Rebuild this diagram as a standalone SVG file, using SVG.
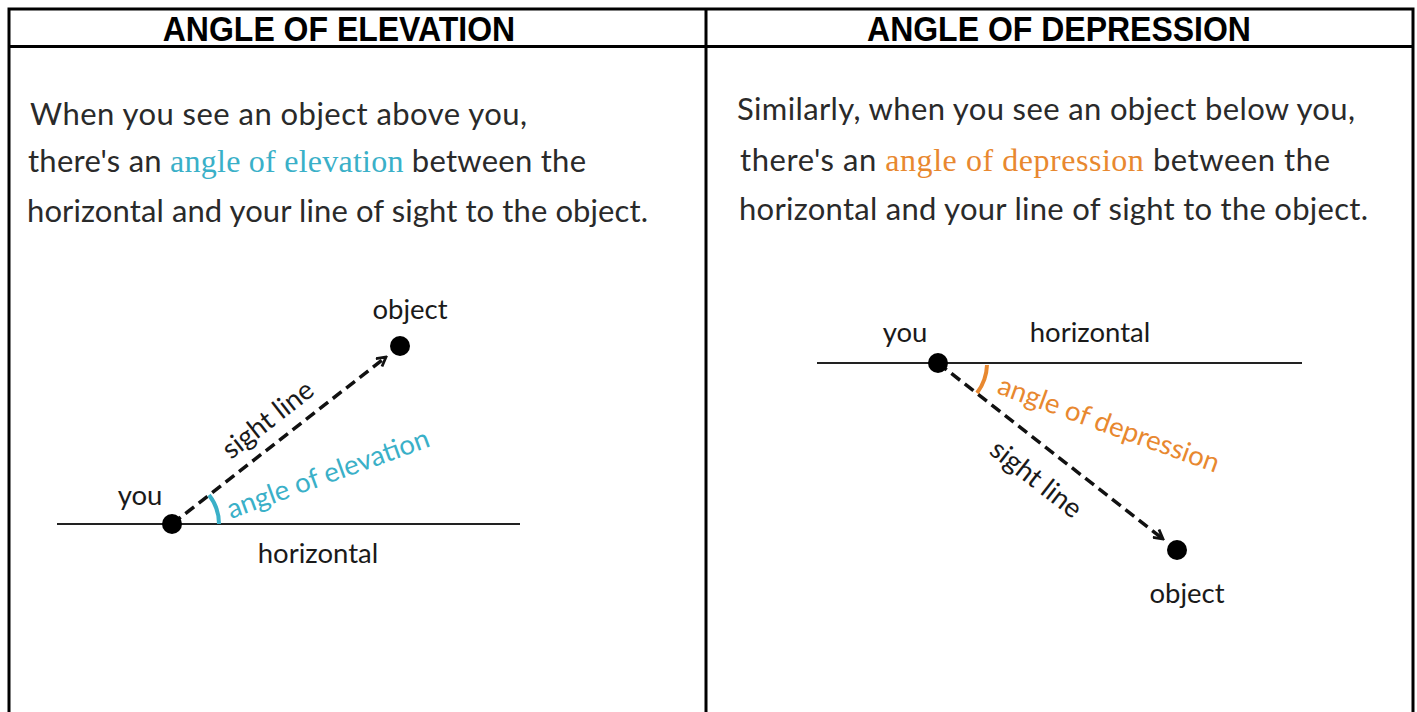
<svg xmlns="http://www.w3.org/2000/svg" width="1417" height="712" viewBox="0 0 1417 712">
<style>
.hdr{font-family:"Liberation Sans",Arial,sans-serif;font-weight:bold;font-size:32px;fill:#000;text-anchor:middle}
.body{font-family:Lato,"Open Sans",sans-serif;font-size:31px;fill:#2a2a2a}
.ser{font-family:"Liberation Serif","DejaVu Serif",serif;font-size:32px}
.lbl{font-family:Lato,"Open Sans",sans-serif;font-size:27.5px;fill:#1a1a1a}
.grid{stroke:#000;stroke-width:3;fill:none}
.hline{stroke:#222;stroke-width:2}
.sight{stroke:#111;stroke-width:3.5;stroke-dasharray:11 6;fill:none}
.dot{fill:#000}
</style>
<defs>
<marker id="chev" viewBox="0 0 12 12" refX="10" refY="6" markerWidth="12" markerHeight="12" markerUnits="userSpaceOnUse" orient="auto">
<path d="M1,1 L10,6 L1,11" fill="none" stroke="#111" stroke-width="2.8"/>
</marker>
</defs>
<g id="table">
<path class="grid" d="M9,712 V9 H1413 V712 M706,9 V712 M9,46.5 H1413"/>
<text class="hdr" x="339" y="41" transform="translate(0,-4) scale(1,1.1)" >ANGLE OF ELEVATION</text>
<text class="hdr" x="1059" y="41" transform="translate(0,-4) scale(1,1.1)">ANGLE OF DEPRESSION</text>
</g>
<g id="text-left">
<text class="body" x="30" y="125" textLength="497">When you see an object above you,</text>
<text class="body" x="28" y="172" textLength="558">there's an <tspan class="ser" fill="#3ab0c8">angle of elevation</tspan> between the</text>
<text class="body" x="27" y="222" textLength="621">horizontal and your line of sight to the object.</text>
</g>
<g id="text-right">
<text class="body" x="737" y="120" textLength="618">Similarly, when you see an object below you,</text>
<text class="body" x="740" y="171" textLength="590">there's an <tspan class="ser" fill="#e8882f">angle of depression</tspan>  between the</text>
<text class="body" x="739" y="220" textLength="629">horizontal and your line of sight to the object.</text>
</g>
<g id="connectors">
<line class="hline" x1="57" y1="524" x2="520" y2="524"/>
<line class="sight" x1="172" y1="524" x2="386" y2="357" marker-end="url(#chev)"/>
<path d="M219,524 A47,47 0 0 0 209,495" stroke="#3ab0c8" stroke-width="4" fill="none"/>
<line class="hline" x1="817" y1="363" x2="1302" y2="363"/>
<line class="sight" x1="938" y1="363" x2="1163" y2="539" marker-end="url(#chev)"/>
<path d="M987,365 A49,49 0 0 1 977,393" stroke="#e8882f" stroke-width="4" fill="none"/>
</g>
<g id="node-you-left">
<circle class="dot" cx="172" cy="524" r="10"/>
<text class="lbl" x="140" y="505" text-anchor="middle">you</text>
</g>
<g id="node-object-left">
<circle class="dot" cx="400" cy="346" r="10"/>
<text class="lbl" x="410" y="319" text-anchor="middle">object</text>
</g>
<g id="labels-left">
<text class="lbl" x="318" y="563" text-anchor="middle">horizontal</text>
<text class="lbl" transform="translate(231,460) rotate(-38)">sight line</text>
<text class="lbl" style="fill:#3ab0c8" transform="translate(231,519) rotate(-20)">angle of elevation</text>
</g>
<g id="node-you-right">
<circle class="dot" cx="938" cy="363" r="10"/>
<text class="lbl" x="905" y="342" text-anchor="middle">you</text>
</g>
<g id="node-object-right">
<circle class="dot" cx="1177" cy="550" r="10"/>
<text class="lbl" x="1187" y="603" text-anchor="middle">object</text>
</g>
<g id="labels-right">
<text class="lbl" x="1090" y="342" text-anchor="middle">horizontal</text>
<text class="lbl" transform="translate(988,453) rotate(38)">sight line</text>
<text class="lbl" style="fill:#e8882f" transform="translate(996,393) rotate(20)">angle of depression</text>
</g>
</svg>
